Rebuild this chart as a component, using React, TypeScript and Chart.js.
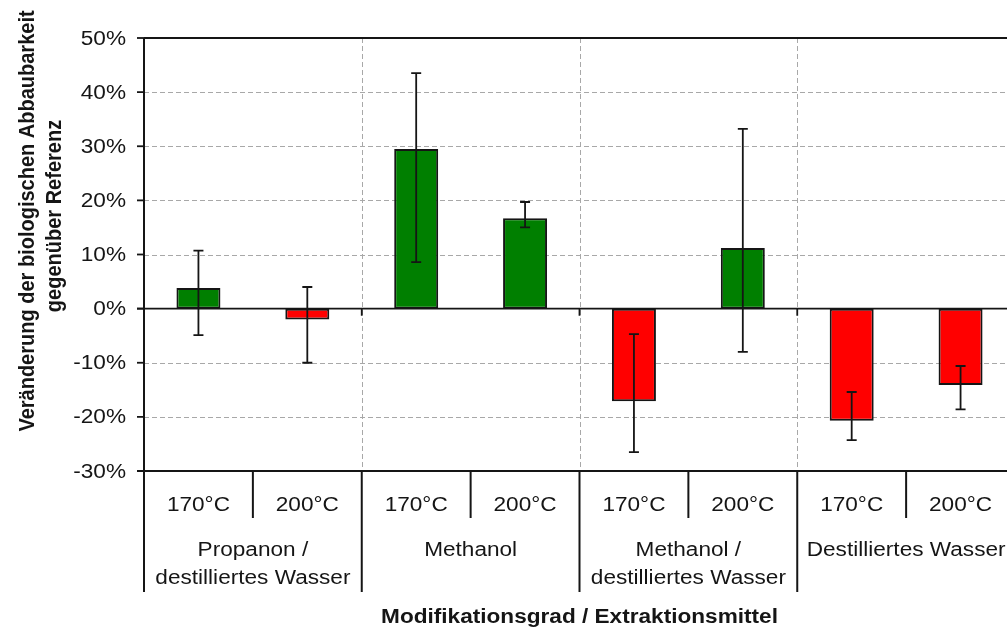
import React, { useEffect, useRef } from "react";
import { Chart, registerables } from "chart.js";

Chart.register(...registerables);

// ---- data ----
const categories = ["170°C", "200°C", "170°C", "200°C", "170°C", "200°C", "170°C", "200°C"];
const groups: string[][] = [
  ["Propanon /", "destilliertes Wasser"],
  ["Methanol"],
  ["Methanol /", "destilliertes Wasser"],
  ["Destilliertes Wasser"],
];
const values = [3.8, -2.0, 29.5, 16.7, -17.1, 11.2, -20.7, -14.1];
const errLow = [-4.9, -10.0, 8.6, 15.0, -26.5, -8.0, -24.3, -18.6];
const errHigh = [10.7, 4.0, 43.5, 19.7, -4.7, 33.2, -15.4, -10.6];
const yTicks = [-30, -20, -10, 0, 10, 20, 30, 40, 50];
const yTickLabels = yTicks.map((v) => `${v}%`);
const yTitle = ["Veränderung der biologischen Abbaubarkeit", "gegenüber Referenz"];
const xTitle = "Modifikationsgrad / Extraktionsmittel";

const GREEN = "#007f00";
const RED = "#ff0000";
const INK = "#151515";
const GRID = "#a8a8a8";
const FONT = '"Liberation Sans", Arial, sans-serif';
const FS = 20;
const SX = 1.13;

const W = 1040;
const H = 631;

function text(
  ctx: CanvasRenderingContext2D,
  s: string,
  x: number,
  y: number,
  align: CanvasTextAlign,
  bold = false,
  rot = 0,
  sAlong = SX,
  sAcross = 1
) {
  ctx.save();
  ctx.translate(x, y);
  if (rot) ctx.rotate(rot);
  ctx.scale(sAlong, sAcross);
  ctx.font = `${bold ? "bold " : ""}${FS}px ${FONT}`;
  ctx.fillStyle = INK;
  ctx.textAlign = align;
  ctx.textBaseline = "middle";
  ctx.fillText(s, 0, 0);
  ctx.restore();
}

const decor = {
  id: "decor",
  beforeDatasetsDraw(chart: any) {
    const ctx: CanvasRenderingContext2D = chart.ctx;
    const { left, right, top, bottom } = chart.chartArea;
    const ys = chart.scales.y;
    const xs = chart.scales.x;
    const n = categories.length;
    const step = xs.getPixelForValue(1) - xs.getPixelForValue(0);
    ctx.save();
    ctx.strokeStyle = GRID;
    ctx.lineWidth = 1;
    ctx.setLineDash([5, 3]);
    yTicks.forEach((v) => {
      if (v === 0 || v === yTicks[0] || v === yTicks[yTicks.length - 1]) return;
      const py = Math.round(ys.getPixelForValue(v)) + 0.5;
      ctx.beginPath();
      ctx.moveTo(left, py);
      ctx.lineTo(right, py);
      ctx.stroke();
    });
    for (let i = 2; i < n; i += 2) {
      const px = Math.round(xs.getPixelForValue(i) - step / 2) + 0.5;
      ctx.beginPath();
      ctx.moveTo(px, top);
      ctx.lineTo(px, bottom);
      ctx.stroke();
    }
    ctx.restore();
  },
  afterDatasetsDraw(chart: any) {
    const ctx: CanvasRenderingContext2D = chart.ctx;
    const { left, right, top, bottom } = chart.chartArea;
    const ys = chart.scales.y;
    const xs = chart.scales.x;
    const n = categories.length;
    const step = xs.getPixelForValue(1) - xs.getPixelForValue(0);
    const y0 = ys.getPixelForValue(0);

    ctx.save();
    ctx.strokeStyle = INK;
    ctx.setLineDash([]);

    // error bars
    ctx.lineWidth = 1.8;
    values.forEach((_, i) => {
      const px = xs.getPixelForValue(i);
      const yl = ys.getPixelForValue(errLow[i]);
      const yh = ys.getPixelForValue(errHigh[i]);
      ctx.beginPath();
      ctx.moveTo(px, yl);
      ctx.lineTo(px, yh);
      ctx.moveTo(px - 5, yl);
      ctx.lineTo(px + 5, yl);
      ctx.moveTo(px - 5, yh);
      ctx.lineTo(px + 5, yh);
      ctx.stroke();
    });

    // zero line + ticks at group boundaries
    ctx.lineWidth = 1.8;
    ctx.beginPath();
    ctx.moveTo(left - 7, y0);
    ctx.lineTo(right, y0);
    for (let i = 2; i < n; i += 2) {
      const px = xs.getPixelForValue(i) - step / 2;
      ctx.moveTo(px, y0);
      ctx.lineTo(px, y0 + 7);
    }
    ctx.stroke();

    // frame: top, bottom, left axis
    ctx.lineWidth = 2;
    ctx.beginPath();
    ctx.moveTo(left, top);
    ctx.lineTo(right, top);
    ctx.moveTo(left - 7, bottom);
    ctx.lineTo(right, bottom);
    ctx.moveTo(left, top);
    ctx.lineTo(left, 592);
    ctx.stroke();

    // y ticks + labels
    ctx.lineWidth = 1.8;
    yTicks.forEach((v, k) => {
      const py = ys.getPixelForValue(v);
      ctx.beginPath();
      ctx.moveTo(left - 7, py);
      ctx.lineTo(left, py);
      ctx.stroke();
      text(ctx, yTickLabels[k], left - 18, py + 1, "right");
    });

    // category table below plot
    ctx.lineWidth = 2;
    for (let i = 0; i <= n; i++) {
      const px = xs.getPixelForValue(i) - step / 2;
      const isGroup = i % 2 === 0;
      ctx.beginPath();
      ctx.moveTo(px, bottom);
      ctx.lineTo(px, isGroup ? 592 : 518);
      ctx.stroke();
    }
    categories.forEach((c, i) => {
      text(ctx, c, xs.getPixelForValue(i), 505, "center");
    });
    groups.forEach((g, gi) => {
      const cx = (xs.getPixelForValue(gi * 2) + xs.getPixelForValue(gi * 2 + 1)) / 2;
      g.forEach((line, li) => text(ctx, line, cx, 550 + li * 28, "center"));
    });

    // axis titles
    text(ctx, xTitle, (left + right) / 2, 617, "center", true);
    text(ctx, yTitle[0], 28, 221, "center", true, -Math.PI / 2, 1.0, SX);
    text(ctx, yTitle[1], 55, 216, "center", true, -Math.PI / 2, 1.0, SX);
    ctx.restore();
  },
};

export default function App() {
  const ref = useRef<HTMLCanvasElement | null>(null);
  useEffect(() => {
    document.body.style.margin = "0";
    document.body.style.overflow = "hidden";
    const canvas = ref.current!;
    const chart = new Chart(canvas, {
      type: "bar",
      data: {
        labels: categories,
        datasets: [
          {
            data: values,
            backgroundColor: values.map((v) => (v >= 0 ? GREEN : RED)),
            borderColor: INK,
            borderWidth: 2,
            borderSkipped: false,
            barPercentage: 0.404,
            categoryPercentage: 1,
          },
        ],
      },
      options: {
        responsive: false,
        animation: false,
        devicePixelRatio: 1,
        layout: { padding: { left: 144, right: W - 1015, top: 38, bottom: H - 471 } },
        scales: {
          x: { display: false },
          y: { display: false, min: yTicks[0], max: yTicks[yTicks.length - 1] },
        },
        plugins: { legend: { display: false }, tooltip: { enabled: false } },
      },
      plugins: [decor],
    });
    return () => chart.destroy();
  }, []);
  return (
    <div
      style={{
        position: "fixed",
        left: 0,
        top: 0,
        width: 1007,
        height: 631,
        overflow: "hidden",
        background: "#fff",
      }}
    >
      <canvas ref={ref} width={W} height={H} style={{ width: W, height: H, display: "block" }} />
    </div>
  );
}
